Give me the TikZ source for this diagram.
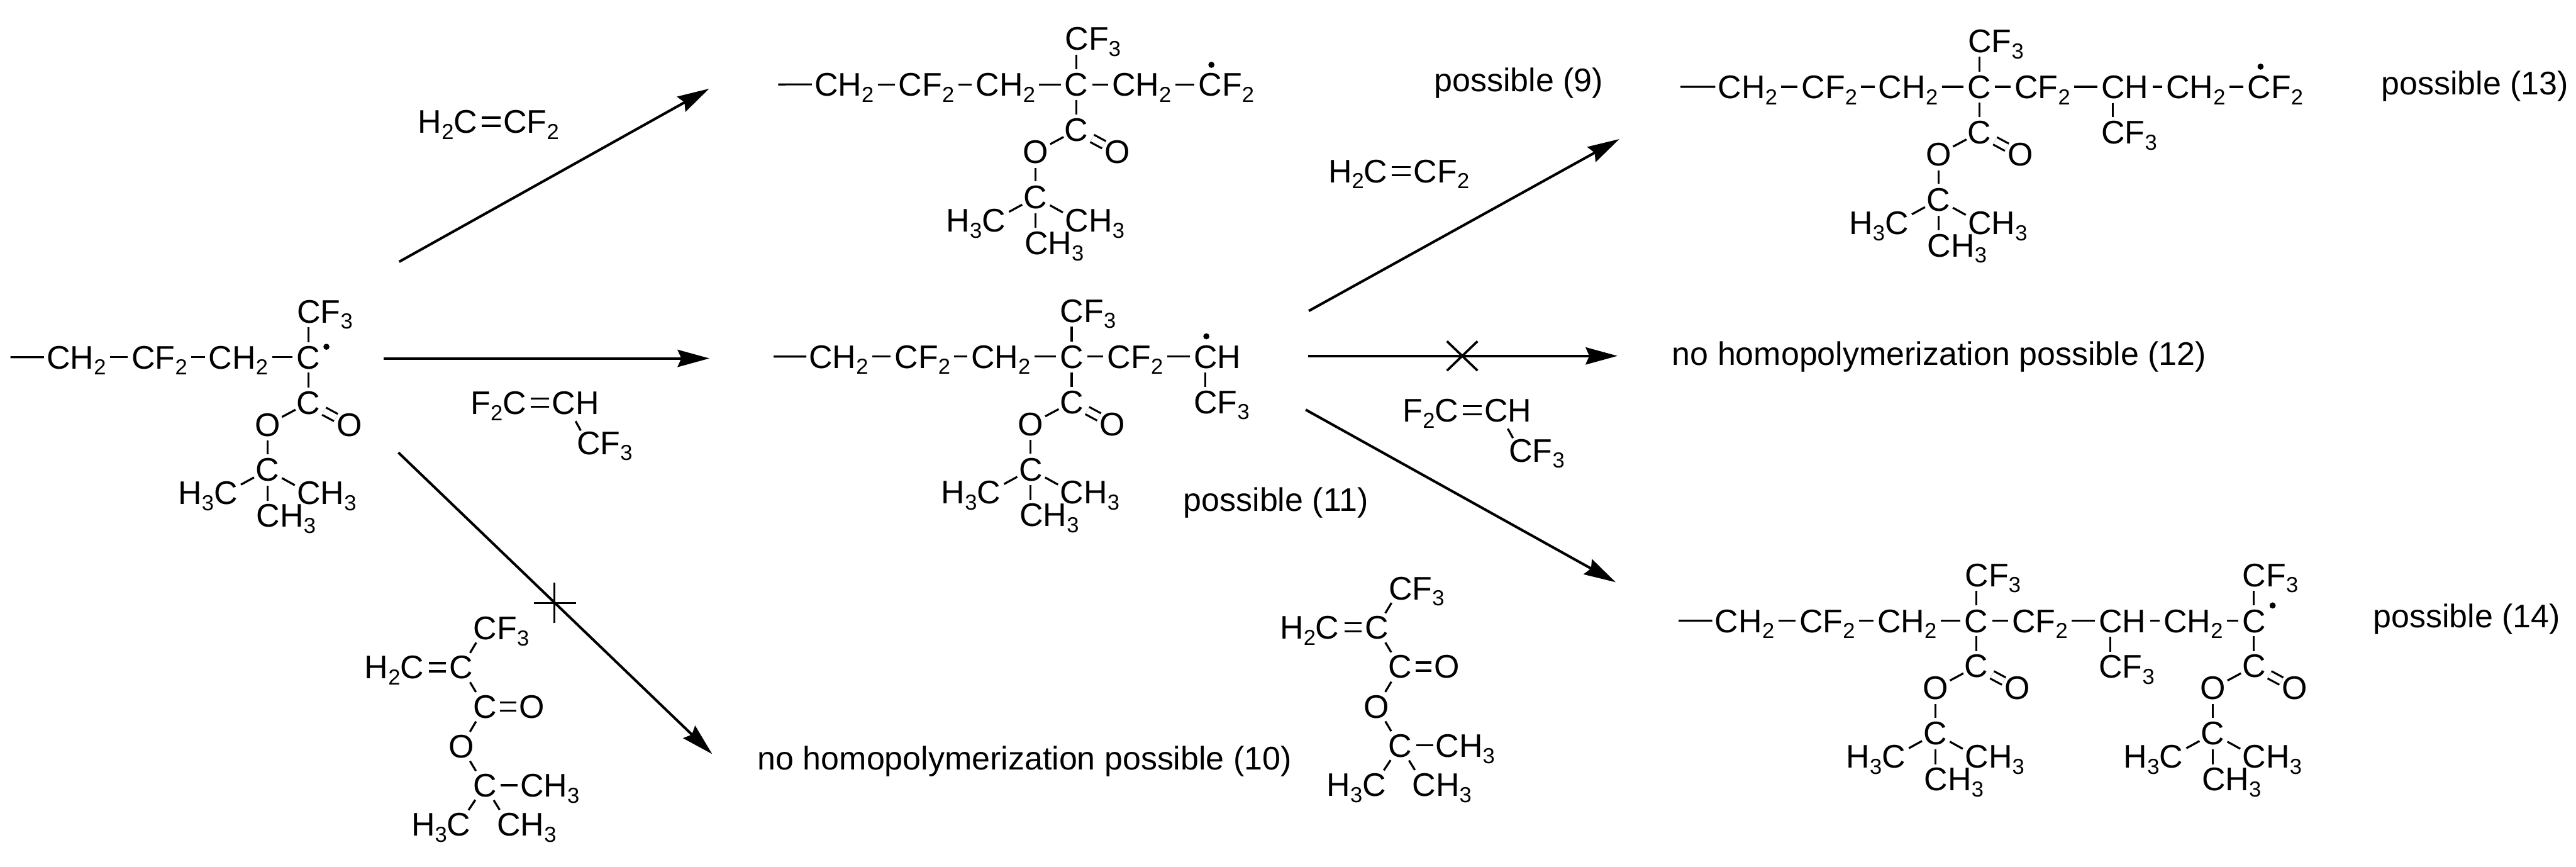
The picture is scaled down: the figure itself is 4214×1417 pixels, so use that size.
\documentclass[tikz,border=0pt]{standalone}
\usepackage{fontspec}
\setmainfont{Liberation Sans}
\usetikzlibrary{arrows.meta}
\newcommand\dn[1]{\raisebox{-1mm}{\fontsize{10.1}{10}\selectfont #1}}
\newcommand\lnk[2]{\draw[bond,shorten <=.65mm,shorten >=.65mm] ([yshift=1.9mm]#1.base east) -- ([yshift=1.9mm]#2.base west);}
\newcommand\ester[3]{%
\begin{scope}[shift={(#2,#3)},name prefix=#1-]
\node[atom,anchor=base] (q) at (0,19) {C};
\node[atom,anchor=base west] (cf) at (-18.5,-56) {CF\dn{3}};
\node[atom,anchor=base] (e) at (0,93) {C};
\node[atom,anchor=base] (ol) at (-67,129) {O};
\node[atom,anchor=base] (or) at (67,129) {O};
\node[atom,anchor=base] (t) at (-67,203) {C};
\node[atom,anchor=base east] (tl) at (-116,241) {H\dn{3}C};
\node[atom,anchor=base west] (tr) at (-18.5,241) {CH\dn{3}};
\node[atom,anchor=base west] (tb) at (-85,278) {CH\dn{3}};
\draw[bond,shorten <=.65mm,shorten >=.7mm] (q.north) -- (q.north |- cf.base);
\draw[bond,shorten <=.6mm,shorten >=.6mm] (q.south) -- (e.north);
\draw[bond,shorten <=2.4mm,shorten >=2.7mm] (e.center) -- (ol.center);
\draw[dbond,shorten <=2.9mm,shorten >=2.5mm] (e.center) -- (or.center);
\draw[bond,shorten <=.7mm,shorten >=.7mm] (ol.south) -- (t.north);
\draw[bond,shorten <=2.5mm,shorten >=2.8mm] (t.center) -- ([xshift=-1.9mm,yshift=1.9mm]tl.base east);
\draw[bond,shorten <=2.7mm,shorten >=2.6mm] (t.center) -- ([xshift=1.9mm,yshift=1.9mm]tr.base west);
\draw[bond,shorten <=.7mm,shorten >=.6mm] (t.south) -- (t.south |- tb.north);
\end{scope}}
\newcommand\vdf[3]{%
\begin{scope}[shift={(#2,#3)},name prefix=#1-]
\node[atom,anchor=base west] (a) at (684,218) {H\dn{2}C};
\node[atom,anchor=base west] (b) at (823.5,218) {CF\dn{2}};
\draw[dbond,shorten <=.7mm,shorten >=.45mm] ([yshift=1.9mm]a.base east) -- ([yshift=1.9mm]b.base west);
\end{scope}}
\newcommand\tfp[3]{%
\begin{scope}[shift={(#2,#3)},name prefix=#1-]
\node[atom,anchor=base west] (a) at (770,677.7) {F\dn{2}C};
\node[atom,anchor=base west] (b) at (903,677.7) {CH};
\node[atom,anchor=base west] (c) at (943.5,743) {CF\dn{3}};
\draw[dbond,shorten <=.7mm,shorten >=.45mm] ([yshift=1.9mm]a.base east) -- ([yshift=1.9mm]b.base west);
\draw[bond] ([yshift=-1.1mm]b.base) -- ([xshift=.65mm,yshift=3.9mm]c.base west);
\end{scope}}
\newcommand\acr[3]{%
\begin{scope}[shift={(#2,#3)},name prefix=#1-]
\node[atom,anchor=base west] (cf) at (774.5,1045.7) {CF\dn{3}};
\node[atom,anchor=base east] (h) at (693.5,1110) {H\dn{2}C};
\node[atom,anchor=base] (c) at (754.5,1110) {C};
\node[atom,anchor=base] (e) at (793,1174) {C};
\node[atom,anchor=base] (o) at (870,1174) {O};
\node[atom,anchor=base] (ol) at (754.5,1239) {O};
\node[atom,anchor=base] (t) at (793,1303) {C};
\node[atom,anchor=base west] (me) at (851,1303) {CH\dn{3}};
\node[atom,anchor=base east] (tl) at (770,1367) {H\dn{3}C};
\node[atom,anchor=base west] (tr) at (813,1367) {CH\dn{3}};
\draw[bond,shorten <=2.8mm,shorten >=2.8mm] (c.center) -- ([xshift=1.9mm,yshift=1.9mm]cf.base west);
\draw[dbond,shorten <=.85mm,shorten >=.55mm] ([yshift=1.9mm]h.base east) -- ([yshift=1.9mm]c.base west);
\draw[bond,shorten <=2.8mm,shorten >=2.8mm] (c.center) -- (e.center);
\draw[dbond,shorten <=.6mm,shorten >=.45mm] ([yshift=1.9mm]e.base east) -- ([yshift=1.9mm]o.base west);
\draw[bond,shorten <=2.8mm,shorten >=2.8mm] (e.center) -- (ol.center);
\draw[bond,shorten <=2.8mm,shorten >=2.8mm] (ol.center) -- (t.center);
\draw[bond,shorten <=.7mm,shorten >=.4mm] ([yshift=1.9mm]t.base east) -- ([yshift=1.9mm]me.base west);
\draw[bond,shorten <=2.8mm,shorten >=2.8mm] (t.center) -- ([xshift=-1.9mm,yshift=1.9mm]tl.base east);
\draw[bond,shorten <=2.8mm,shorten >=2.8mm] (t.center) -- ([xshift=1.9mm,yshift=1.9mm]tr.base west);
\end{scope}}
\tikzset{
  atom/.style={inner sep=0pt,outer sep=0pt,font=\fontsize{15.2}{18}\selectfont},
  label text/.style={atom,anchor=base west},
  grp/.style={atom,anchor=base west},
  bond/.style={line width=.33mm},
  dbond/.style={bond,double,double distance=1mm},
  rad/.style={circle,fill=black,inner sep=0pt,outer sep=0pt,minimum size=1mm},
  rxn/.style={line width=.42mm,-{Stealth[length=5.2mm,width=2.8mm,inset=.6mm]}},
  cross/.style={line width=.38mm}
}
\begin{document}
\begin{tikzpicture}[x=.01cm,y=-.01cm]
\useasboundingbox (0,0) rectangle (4214,1417);
\fill[white] (0,0) rectangle (4214,1417);
% left radical
\ester{a}{504.5}{584}
\node[rad] (a-dot) at (534,567) {};
\coordinate (a-s) at (17,584);
\node[grp] (a1) at (76.5,603) {CH\dn{2}};
\node[grp] (a2) at (215.5,603) {CF\dn{2}};
\node[grp] (a3) at (341.5,603) {CH\dn{2}};
\draw[bond,shorten >=.45mm] (a-s) -- ([yshift=1.9mm]a1.base west);
\lnk{a1}{a2}\lnk{a2}{a3}\lnk{a3}{a-q}
% top middle
\ester{b}{1761}{138}
\node[rad] (b-dot) at (1981.7,106) {};
\coordinate (b-s) at (1273,138);
\node[grp] (b1) at (1332.5,157) {CH\dn{2}};
\node[grp] (b2) at (1470,157) {CF\dn{2}};
\node[grp] (b3) at (1596.5,157) {CH\dn{2}};
\node[grp] (b4) at (1819,157) {CH\dn{2}};
\node[grp] (b5) at (1960.5,157) {CF\dn{2}};
\draw[bond,shorten >=.45mm] (b-s) -- ([yshift=1.9mm]b1.base west);
\lnk{b1}{b2}\lnk{b2}{b3}\lnk{b3}{b-q}\lnk{b-q}{b4}\lnk{b4}{b5}
% middle
\ester{c}{1753}{583}
\node[rad] (c-dot) at (1973.4,550) {};
\coordinate (c-s) at (1265.5,583);
\node[grp] (c1) at (1323.5,602) {CH\dn{2}};
\node[grp] (c2) at (1463.5,602) {CF\dn{2}};
\node[grp] (c3) at (1588.5,602) {CH\dn{2}};
\node[grp] (c4) at (1811.5,602) {CF\dn{2}};
\node[grp] (c5) at (1953,602) {CH};
\node[grp] (c6) at (1953,676) {CF\dn{3}};
\draw[bond,shorten >=.45mm] (c-s) -- ([yshift=1.9mm]c1.base west);
\lnk{c1}{c2}\lnk{c2}{c3}\lnk{c3}{c-q}\lnk{c-q}{c4}\lnk{c4}{c5}
\draw[bond,shorten <=.7mm,shorten >=.6mm] ([xshift=1.9mm]c5.south west) -- ([xshift=1.9mm]c6.north west);
% right top
\ester{d}{3238}{142}
\node[rad] (d-dot) at (3698,109) {};
\coordinate (d-s) at (2749,142);
\node[grp] (d1) at (2810.5,161) {CH\dn{2}};
\node[grp] (d2) at (2947,161) {CF\dn{2}};
\node[grp] (d3) at (3073,161) {CH\dn{2}};
\node[grp] (d4) at (3295.5,161) {CF\dn{2}};
\node[grp] (d5) at (3437.5,161) {CH};
\node[grp] (d6) at (3543.5,161) {CH\dn{2}};
\node[grp] (d7) at (3676.5,161) {CF\dn{2}};
\node[grp] (d8) at (3437.5,235) {CF\dn{3}};
\draw[bond,shorten >=.45mm] (d-s) -- ([yshift=1.9mm]d1.base west);
\lnk{d1}{d2}\lnk{d2}{d3}\lnk{d3}{d-q}\lnk{d-q}{d4}\lnk{d4}{d5}\lnk{d5}{d6}\lnk{d6}{d7}
\draw[bond,shorten <=.7mm,shorten >=.6mm] ([xshift=1.9mm]d5.south west) -- ([xshift=1.9mm]d8.north west);
% right bottom
\ester{e}{3233}{1015}
\ester{f}{3687}{1015}
\node[rad] (f-dot) at (3717.7,990) {};
\coordinate (e-s) at (2746,1015);
\node[grp] (e1) at (2805.5,1034) {CH\dn{2}};
\node[grp] (e2) at (2943.5,1034) {CF\dn{2}};
\node[grp] (e3) at (3071,1034) {CH\dn{2}};
\node[grp] (e4) at (3291.5,1034) {CF\dn{2}};
\node[grp] (e5) at (3433.5,1034) {CH};
\node[grp] (e6) at (3539.5,1034) {CH\dn{2}};
\node[grp] (e7) at (3433.5,1109) {CF\dn{3}};
\draw[bond,shorten >=.45mm] (e-s) -- ([yshift=1.9mm]e1.base west);
\lnk{e1}{e2}\lnk{e2}{e3}\lnk{e3}{e-q}\lnk{e-q}{e4}\lnk{e4}{e5}\lnk{e5}{e6}\lnk{e6}{f-q}
\draw[bond,shorten <=.7mm,shorten >=.6mm] ([xshift=1.9mm]e5.south west) -- ([xshift=1.9mm]e7.north west);
% reagents
\vdf{va}{0}{0}
\vdf{vb}{1489}{80.5}
\tfp{pa}{0}{0}
\tfp{pb}{1525}{12.3}
\acr{ma}{0}{0}
\acr{mb}{1497.3}{-65}
% labels
\node[label text] (l9) at (2346,150) {possible (9)};
\node[label text] (l10) at (1239.5,1259) {no homopolymerization possible (10)};
\node[label text] (l11) at (1936,836) {possible (11)};
\node[label text] (l12) at (2735.5,596.7) {no homopolymerization possible (12)};
\node[label text] (l13) at (3895.5,155) {possible (13)};
\node[label text] (l14) at (3882,1026.7) {possible (14)};
% arrows
\coordinate (r1s) at (653,428); \coordinate (r1e) at (1160,145);
\coordinate (r2s) at (627.5,586); \coordinate (r2e) at (1160.6,586);
\coordinate (r3s) at (651.7,740); \coordinate (r3e) at (1165,1233);
\coordinate (r4s) at (2141,508.4); \coordinate (r4e) at (2649,227.4);
\coordinate (r5s) at (2140,582); \coordinate (r5e) at (2646,582);
\coordinate (r6s) at (2136,670); \coordinate (r6e) at (2643,952);
\draw[rxn] (r1s) -- (r1e);
\draw[rxn] (r2s) -- (r2e);
\draw[rxn] (r3s) -- (r3e);
\draw[rxn] (r4s) -- (r4e);
\draw[rxn] (r5s) -- (r5e);
\draw[rxn] (r6s) -- (r6e);
% crossing marks
\coordinate (x1) at (907,986);
\coordinate (x2) at (2392,582);
\draw[cross] (x1) ++(-34,0) -- ++(69,0);
\draw[cross] (x1) ++(0,-33) -- ++(0,66);
\draw[cross] (x2) ++(-25,-24) -- ++(50,48);
\draw[cross] (x2) ++(-25,24) -- ++(50,-48);
\end{tikzpicture}
\end{document}
